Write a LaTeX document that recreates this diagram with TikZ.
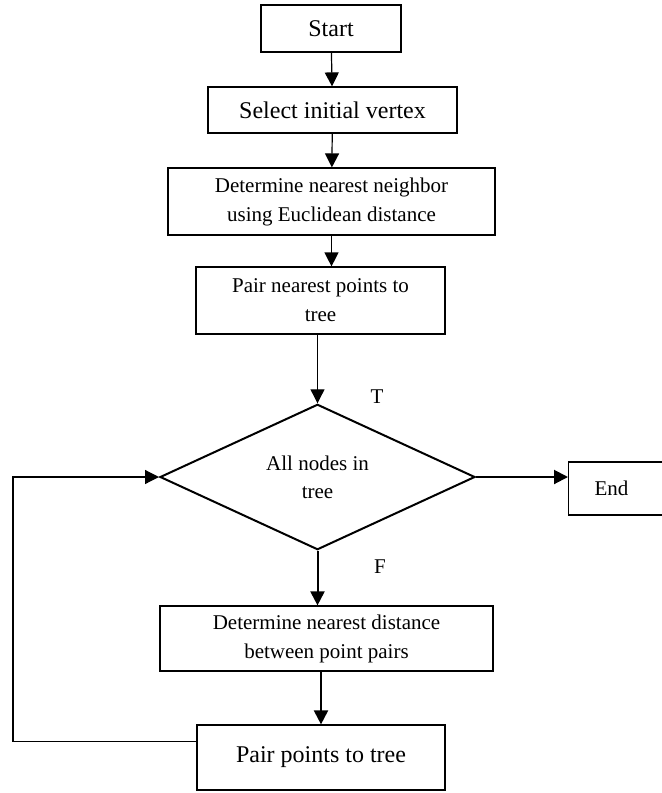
\documentclass[tikz,border=0pt]{standalone}
\usepackage{fontspec}
\setmainfont{Liberation Serif}
\usetikzlibrary{shapes.geometric,arrows.meta}

\begin{document}
\begin{tikzpicture}[x=0.5pt, y=-0.5pt, line width=0.6pt, >={Triangle[length=7pt,width=7pt]},
	block/.style={rectangle, draw, inner sep=2pt, align=center, font=\fontsize{12}{14}\selectfont},
	small block/.style={block, font=\fontsize{10.5}{14.5}\selectfont},
	decision/.style={diamond, draw, line width=1pt, inner sep=0pt, align=center, minimum width=157.5pt, minimum height=66pt, font=\fontsize{10.5}{14}\selectfont},
	branch/.style={font=\fontsize{10.5}{12}\selectfont}]
	\useasboundingbox (0,0) rectangle (661,793);

	\node[block, minimum width=70pt, minimum height=23.5pt] (start) at (331,28.5) {Start};
	\node[block, minimum width=124.5pt, minimum height=23pt] (select) at (332.5,110) {Select initial vertex};
	\node[small block, minimum width=163.5pt, minimum height=33.5pt] (nearest) at (331.5,201.5) {Determine nearest neighbor\\using Euclidean distance};
	\node[small block, minimum width=124.5pt, minimum height=33.5pt] (pairnear) at (320.5,300.5) {Pair nearest points to\\tree};
	\node[decision] (check) at (317.5,477) {All nodes in\\tree};
	\node[small block, anchor=west, minimum height=26.5pt, text width=30pt, inner xsep=13pt, align=left] (end) at (568,488.5) {End};
	\node[small block, minimum width=166.5pt, minimum height=32.5pt] (distance) at (326.5,638.5) {Determine nearest distance\\between point pairs};
	\node[block, minimum width=124pt, minimum height=32.5pt] (pairpts) at (321,757.5) {Pair points to tree};
	\node[branch] (t) at (377,397) {T};
	\node[branch] (f) at (380,567) {F};
	\coordinate (turn) at (13,477);

	\path[->]
		(start) edge (select)
		(select) edge (nearest)
		(nearest.south) edge (nearest.south |- pairnear.north)
		(check.north |- pairnear.south) edge (check.north);
	\path[->, line width=1pt]
		(check.east) edge (check.east -| end.west)
		(check.south) edge (check.south |- distance.north)
		(pairpts.north |- distance.south) edge (pairpts.north);
	\draw[->] ([yshift=8pt]pairpts.west) -| (turn) -- (check.west);
\end{tikzpicture}
\end{document}
